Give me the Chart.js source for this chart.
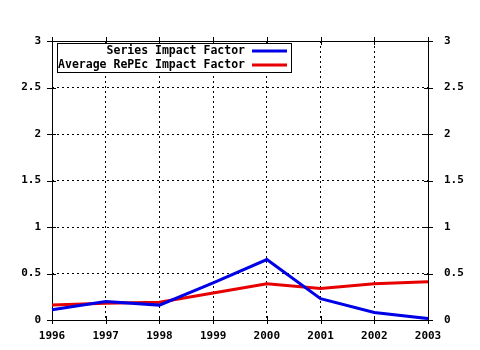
<!DOCTYPE html>
<html>
<head>
<meta charset="utf-8">
<script src="https://cdn.jsdelivr.net/npm/chart.js@4"></script>
<style>
  html, body { margin: 0; padding: 0; background: #fff; }
  #wrap { width: 480px; height: 350px; }
</style>
</head>
<body>
<div id="wrap"><canvas id="chart"></canvas></div>
<script>
const years = ["1996", "1997", "1998", "1999", "2000", "2001", "2002", "2003"];
const seriesImpact = [0.11, 0.20, 0.16, 0.40, 0.65, 0.23, 0.08, 0.015];
const repecImpact = [0.16, 0.18, 0.19, 0.29, 0.39, 0.34, 0.39, 0.41];
const yTicks = [0, 0.5, 1, 1.5, 2, 2.5, 3];

const FONT = { family: "'DejaVu Sans Mono', monospace", size: 11, weight: "bold" };

// frame + ticks crossing the border, gnuplot style
const framePlugin = {
    id: "frame",
    beforeDatasetsDraw(chart) {
        const { ctx, chartArea: a, scales } = chart;
        ctx.save();
        ctx.strokeStyle = "#000";
        ctx.lineWidth = 1;
        ctx.beginPath();
        scales.x.ticks.forEach((t, i) => {
            const px = Math.round(scales.x.getPixelForTick(i)) + 0.5;
            ctx.moveTo(px, a.bottom - 4); ctx.lineTo(px, a.bottom + 4);
            ctx.moveTo(px, a.top + 4); ctx.lineTo(px, a.top - 4);
        });
        yTicks.forEach(v => {
            const py = Math.round(scales.y.getPixelForValue(v)) + 0.5;
            ctx.moveTo(a.left - 5, py); ctx.lineTo(a.left + 4, py);
            ctx.moveTo(a.right - 4, py); ctx.lineTo(a.right + 5, py);
        });
        ctx.stroke();
        ctx.strokeRect(Math.round(a.left) + 0.5, Math.round(a.top) + 0.5,
            Math.round(a.right - a.left), Math.round(a.bottom - a.top));
        ctx.restore();
    },
    afterDraw(chart) {
        const { ctx, chartArea: a } = chart;
        const x0 = a.left + 5, y0 = a.top + 2, w = 234, h = 29;
        ctx.save();
        ctx.fillStyle = "#fff";
        ctx.fillRect(x0, y0, w, h);
        ctx.strokeStyle = "#000";
        ctx.lineWidth = 1;
        ctx.strokeRect(x0 + 0.5, y0 + 0.5, w, h);
        ctx.font = "bold 11.5px 'DejaVu Sans Mono', monospace";
        ctx.textAlign = "right";
        ctx.textBaseline = "middle";
        chart.data.datasets.forEach((ds, i) => {
            const cy = y0 + 8 + i * 14;
            ctx.fillStyle = "#000";
            ctx.fillText(ds.label, x0 + 188, cy);
            ctx.strokeStyle = ds.borderColor;
            ctx.lineWidth = 3;
            ctx.beginPath();
            ctx.moveTo(x0 + 195, cy);
            ctx.lineTo(x0 + 230, cy);
            ctx.stroke();
        });
        ctx.restore();
    }
};

new Chart(document.getElementById("chart"), {
    type: "line",
    data: {
        labels: years,
        datasets: [
            {
                label: "Series Impact Factor",
                data: seriesImpact,
                borderColor: "#0000e6",
                borderWidth: 3,
                pointRadius: 0,
                tension: 0,
                yAxisID: "y"
            },
            {
                label: "Average RePEc Impact Factor",
                data: repecImpact,
                borderColor: "#e60000",
                borderWidth: 3,
                pointRadius: 0,
                tension: 0,
                yAxisID: "y"
            }
        ]
    },
    options: {
        responsive: true,
        maintainAspectRatio: false,
        animation: false,
        layout: { padding: { top: 41, left: 0, right: 0, bottom: 0 } },
        plugins: {
            legend: { display: false },
            tooltip: { enabled: false }
        },
        scales: {
            x: {
                offset: false,
                grid: { color: "#000", lineWidth: 1, drawTicks: false },
                border: { display: false, dash: [2, 3] },
                ticks: { color: "#000", font: FONT, padding: 10, maxRotation: 0 },
                afterFit(s) { s.height = 30; }
            },
            y: {
                min: 0, max: 3,
                afterBuildTicks(s) { s.ticks = yTicks.map(v => ({ value: v })); },
                grid: { color: "#000", lineWidth: 1, drawTicks: false },
                border: { display: false, dash: [2, 3] },
                ticks: { color: "#000", font: FONT, padding: 11, callback: v => String(v) },
                afterFit(s) { s.width = 52; }
            },
            y2: {
                position: "right",
                min: 0, max: 3,
                afterBuildTicks(s) { s.ticks = yTicks.map(v => ({ value: v })); },
                grid: { display: false, drawTicks: false },
                border: { display: false },
                ticks: { color: "#000", font: FONT, padding: 16, callback: v => String(v) },
                afterFit(s) { s.width = 52; }
            }
        }
    },
    plugins: [framePlugin]
});
</script>
</body>
</html>
